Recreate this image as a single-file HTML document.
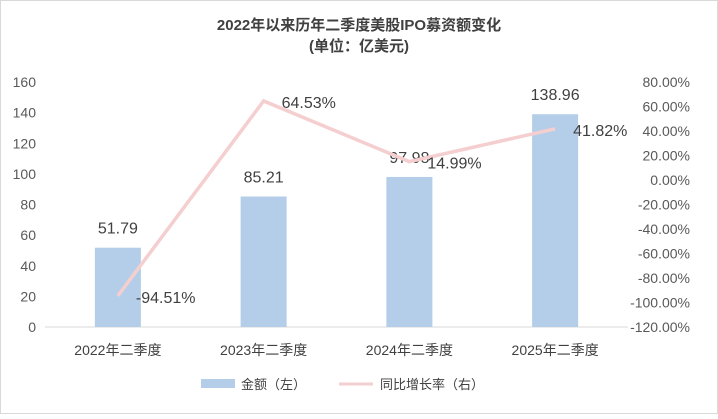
<!DOCTYPE html>
<html><head><meta charset="utf-8"><style>
body{margin:0;background:#fff;}
svg text{font-family:"Liberation Sans","Noto Sans CJK SC",sans-serif;}
</style></head><body>
<svg width="718" height="414" viewBox="0 0 718 414">
<rect x="0.5" y="0.5" width="717" height="413" fill="#fff" stroke="#d9d9d9"/>
<text x="359" y="30" text-anchor="middle" font-size="15" font-weight="bold" fill="#404040">2022年以来历年二季度美股IPO募资额变化</text>
<text x="359" y="51" text-anchor="middle" font-size="15" font-weight="bold" fill="#404040">(单位：亿美元)</text>
<g id="g"></g>
<g>
<rect x="201" y="379" width="34" height="9" fill="#b4cde8"/>
<text x="241" y="389" font-size="13" fill="#404040">金额（左）</text>
<line x1="339" y1="384" x2="373" y2="384" stroke="#f5cfd0" stroke-width="3"/>
<text x="380" y="389" font-size="13" fill="#404040">同比增长率（右）</text>
</g>
</svg>
<script>
const categories=["2022年二季度","2023年二季度","2024年二季度","2025年二季度"];
const amounts=[51.79,85.21,97.98,138.96];
const growth=[-94.51,64.53,14.99,41.82];
const leftTicks=[0,20,40,60,80,100,120,140,160];
const rightTicks=[80,60,40,20,0,-20,-40,-60,-80,-100,-120];
const NS="http://www.w3.org/2000/svg";
const gRoot=document.getElementById('g');
const plotTop=82,plotBot=327,plotX0=45,plotX1=628;
const yL=v=>plotBot-(v/160)*(plotBot-plotTop);
const yR=v=>plotBot-((v+120)/200)*(plotBot-plotTop);
const bandW=(plotX1-plotX0)/categories.length;
const xC=i=>plotX0+bandW*(i+0.5);
function mk(t,a,txt){const e=document.createElementNS(NS,t);for(const k in a)e.setAttribute(k,a[k]);if(txt!==undefined)e.textContent=txt;gRoot.appendChild(e);return e;}
leftTicks.forEach(v=>{const e=mk('text',{x:36,y:yL(v)+5,'text-anchor':'end','font-size':14,fill:'#595959'},String(v));

});
rightTicks.forEach(v=>{const e=mk('text',{x:690,y:yR(v)+5,'text-anchor':'end','font-size':14,fill:'#595959'},v.toFixed(2)+'%');

});
const ax=mk('line',{x1:plotX0,y1:plotBot,x2:plotX1,y2:plotBot,stroke:'#d9d9d9'});


amounts.forEach((v,i)=>{const r=mk('rect',{x:xC(i)-23,y:yL(v),width:46,height:plotBot-yL(v),fill:'#b4cde8'});


const t=mk('text',{x:xC(i),y:yL(v)-14,'text-anchor':'middle','font-size':16,fill:'#404040'},v.toFixed(2));


const c=mk('text',{x:xC(i),y:355,'text-anchor':'middle','font-size':14,fill:'#404040'},categories[i]);

});
const pl=mk('polyline',{points:growth.map((v,i)=>xC(i)+','+yR(v)).join(' '),fill:'none',stroke:'#f5cfd0','stroke-width':3.5});


growth.forEach((v,i)=>{const t=mk('text',{x:xC(i)+18,y:yR(v)+7,'font-size':16,fill:'#404040'},v.toFixed(2)+'%');

});
</script>
</body></html>
